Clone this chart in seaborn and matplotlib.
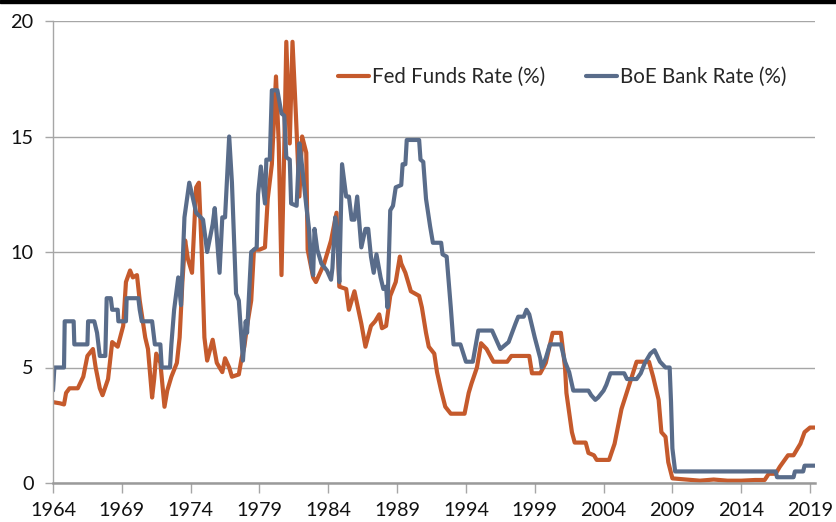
import matplotlib
matplotlib.use("Agg")
import matplotlib.pyplot as plt
from matplotlib.patches import Rectangle
import seaborn as sns
import pandas as pd

# ---- data ----
fed_years = [1964.0, 1964.5, 1964.8, 1964.95, 1965.2, 1965.8, 1966.2, 1966.5, 1966.9, 1967.1,
             1967.4, 1967.6, 1968.0, 1968.3, 1968.7, 1969.1, 1969.3, 1969.6, 1969.8, 1970.1,
             1970.3, 1970.7, 1970.9, 1971.2, 1971.35, 1971.5, 1971.8, 1972.1, 1972.3, 1972.6,
             1973.0, 1973.2, 1973.4, 1973.6, 1973.8, 1974.1, 1974.4, 1974.6, 1974.8, 1975.0,
             1975.2, 1975.6, 1975.9, 1976.3, 1976.5, 1976.8, 1977.0, 1977.5, 1977.7, 1977.9,
             1978.1, 1978.4, 1978.6, 1979.0, 1979.4, 1979.6, 1979.9, 1980.2, 1980.4, 1980.6,
             1980.8, 1980.95, 1981.2, 1981.4, 1981.65, 1981.9, 1982.1, 1982.4, 1982.5, 1982.9,
             1983.1, 1983.7, 1984.2, 1984.6, 1984.8, 1985.3, 1985.5, 1985.9, 1986.4, 1986.7,
             1987.1, 1987.4, 1987.7, 1987.9, 1988.2, 1988.5, 1988.9, 1989.2, 1989.3, 1989.6,
             1990.0, 1990.6, 1990.8, 1991.1, 1991.3, 1991.7, 1991.9, 1992.2, 1992.5, 1992.9,
             1993.9, 1994.2, 1994.4, 1994.8, 1995.1, 1995.5, 1996.0, 1997.0, 1997.3, 1998.6,
             1998.8, 1999.4, 1999.8, 2000.3, 2000.9, 2001.2, 2001.3, 2001.7, 2001.9, 2002.7,
             2002.9, 2003.3, 2003.5, 2004.4, 2004.8, 2005.3, 2006.0, 2006.4, 2007.3, 2007.6,
             2008.0, 2008.2, 2008.5, 2008.7, 2009.0, 2010.0, 2011.0, 2012.0, 2013.0, 2014.0,
             2015.0, 2015.7, 2016.0, 2016.5, 2016.8, 2017.4, 2017.8, 2018.3, 2018.6, 2019.0,
             2019.35]
fed_rate = [3.5, 3.45, 3.4, 3.9, 4.1, 4.1, 4.6, 5.5, 5.8, 5.0,
            4.1, 3.8, 4.5, 6.1, 5.9, 6.8, 8.7, 9.2, 8.9, 9.0,
            7.9, 6.3, 5.8, 3.7, 4.5, 5.6, 5.2, 3.3, 4.0, 4.6,
            5.2, 6.3, 8.7, 10.5, 9.7, 9.1, 12.8, 13.0, 10.1, 6.3,
            5.3, 6.2, 5.2, 4.8, 5.4, 5.0, 4.6, 4.7, 5.4, 5.9,
            6.8, 7.9, 10.1, 10.1, 10.2, 12.3, 13.8, 17.6, 14.7, 9.0,
            14.4, 19.1, 14.7, 19.1, 15.9, 12.4, 15.0, 14.3, 10.1, 8.9,
            8.7, 9.5, 10.5, 11.7, 8.5, 8.4, 7.5, 8.3, 6.9, 5.9,
            6.8, 7.0, 7.3, 6.7, 6.8, 8.1, 8.7, 9.8, 9.5, 9.1,
            8.3, 8.1, 7.6, 6.5, 5.9, 5.6, 4.8, 4.0, 3.3, 3.0,
            3.0, 3.9, 4.3, 5.0, 6.05, 5.8, 5.25, 5.25, 5.5, 5.5,
            4.75, 4.75, 5.2, 6.5, 6.5, 5.0, 3.9, 2.2, 1.75, 1.75,
            1.3, 1.2, 1.0, 1.0, 1.7, 3.2, 4.5, 5.25, 5.25, 4.6,
            3.6, 2.2, 2.0, 0.9, 0.2, 0.15, 0.1, 0.15, 0.1, 0.1,
            0.13, 0.13, 0.4, 0.4, 0.7, 1.2, 1.2, 1.7, 2.2, 2.4,
            2.4]

boe_years = [1964.0, 1964.1, 1964.8, 1964.85, 1965.5, 1965.55, 1966.5, 1966.55, 1967.0, 1967.2,
             1967.4, 1967.8, 1967.9, 1968.2, 1968.3, 1968.7, 1968.75, 1969.3, 1969.35, 1970.2,
             1970.3, 1970.45, 1971.2, 1971.4, 1971.8, 1971.9, 1972.5, 1972.6, 1972.8, 1973.1,
             1973.3, 1973.55, 1973.9, 1974.1, 1974.4, 1974.9, 1975.2, 1975.6, 1975.75, 1976.1,
             1976.3, 1976.5, 1976.8, 1977.0, 1977.3, 1977.5, 1977.8, 1978.0, 1978.1, 1978.4,
             1978.8, 1978.9, 1979.1, 1979.4, 1979.5, 1979.75, 1979.9, 1980.3, 1980.6, 1980.8,
             1980.95, 1981.2, 1981.3, 1981.7, 1981.9, 1982.1, 1982.4, 1982.6, 1982.75, 1982.9,
             1983.0, 1983.2, 1983.5, 1983.9, 1984.2, 1984.3, 1984.5, 1984.65, 1984.8, 1985.0,
             1985.3, 1985.5, 1985.7, 1985.9, 1986.1, 1986.4, 1986.7, 1986.9, 1987.1, 1987.3,
             1987.5, 1987.8, 1988.0, 1988.2, 1988.3, 1988.5, 1988.7, 1988.9, 1989.3, 1989.4,
             1989.6, 1989.7, 1990.6, 1990.7, 1990.9, 1991.1, 1991.4, 1991.6, 1992.2, 1992.3,
             1992.6, 1992.9, 1993.1, 1993.6, 1994.0, 1994.5, 1994.9, 1995.9, 1996.5, 1997.1,
             1997.6, 1997.8, 1998.2, 1998.4, 1998.6, 1999.0, 1999.4, 1999.5, 1999.8, 2000.1,
             2000.9, 2001.2, 2001.5, 2001.8, 2002.9, 2003.1, 2003.4, 2003.6, 2004.0, 2004.2,
             2004.5, 2005.5, 2005.7, 2006.4, 2006.7, 2007.0, 2007.4, 2007.7, 2008.1, 2008.5,
             2008.8, 2008.9, 2009.0, 2009.2, 2016.5, 2016.6, 2017.8, 2017.9, 2018.5, 2018.6,
             2019.35]
boe_rate = [4.0, 5.0, 5.0, 7.0, 7.0, 6.0, 6.0, 7.0, 7.0, 6.5,
            5.5, 5.5, 8.0, 8.0, 7.5, 7.5, 7.0, 7.0, 8.0, 8.0,
            7.5, 7.0, 7.0, 6.0, 6.0, 5.0, 5.0, 6.0, 7.5, 8.9,
            7.7, 11.5, 13.0, 12.5, 11.7, 11.4, 10.0, 11.2, 11.9, 9.1,
            11.5, 11.5, 15.0, 13.0, 8.2, 7.9, 5.3, 7.0, 6.5, 10.0,
            10.2, 12.5, 13.7, 12.1, 14.0, 14.0, 17.0, 17.0, 16.0, 15.9,
            14.1, 14.0, 12.1, 12.0, 14.7, 13.7, 12.0, 11.0, 9.5, 9.0,
            11.0, 10.1, 9.5, 9.2, 8.8, 9.3, 11.5, 10.8, 8.7, 13.8,
            12.4, 12.4, 11.4, 11.4, 12.4, 10.2, 11.0, 11.0, 9.8, 9.1,
            9.9, 8.9, 8.4, 8.5, 7.6, 11.8, 12.0, 12.8, 12.9, 13.8,
            13.8, 14.85, 14.85, 14.0, 13.9, 12.3, 11.1, 10.4, 10.4, 9.9,
            9.8, 7.6, 6.0, 6.0, 5.25, 5.25, 6.6, 6.6, 5.8, 6.1,
            6.9, 7.2, 7.2, 7.5, 7.3, 6.3, 5.4, 5.0, 5.4, 6.0,
            6.0, 5.25, 4.8, 4.0, 4.0, 3.8, 3.6, 3.7, 4.0, 4.25,
            4.75, 4.75, 4.5, 4.5, 4.75, 5.2, 5.6, 5.75, 5.25, 5.0,
            5.0, 3.5, 1.5, 0.5, 0.5, 0.25, 0.25, 0.5, 0.5, 0.75,
            0.75]

series_names = ["Fed Funds Rate (%)", "BoE Bank Rate (%)"]
x_ticks = [1964, 1969, 1974, 1979, 1984, 1989, 1994, 1999, 2004, 2009, 2014, 2019]
y_ticks = [0, 5, 10, 15, 20]

assert len(fed_years) == len(fed_rate), (len(fed_years), len(fed_rate))
assert len(boe_years) == len(boe_rate), (len(boe_years), len(boe_rate))

df = pd.concat([
    pd.DataFrame({"year": fed_years, "rate": fed_rate, "series": series_names[0]}),
    pd.DataFrame({"year": boe_years, "rate": boe_rate, "series": series_names[1]}),
], ignore_index=True)

# ---- style ----
sns.set_theme(style="white")
plt.rcParams["font.family"] = ["Lato", "DejaVu Sans"]

colors = {series_names[0]: "#C55A2C", series_names[1]: "#596C8A"}
grid_c = "#A6A6A6"

fig = plt.figure(figsize=(8.36, 5.22), dpi=100)
ax = fig.add_axes([53 / 836, 1 - 483 / 522, (815 - 53) / 836, (483 - 21) / 522])

sns.lineplot(data=df, x="year", y="rate", hue="series", palette=colors,
             estimator=None, sort=False, linewidth=3.0, ax=ax, legend=True)
for ln in ax.lines:
    ln.set_solid_joinstyle("round")
    ln.set_solid_capstyle("round")

ax.set_xlim(1964, 2019.36)
ax.set_ylim(0, 20)
ax.set_xticks(x_ticks)
ax.set_xticklabels([str(t) for t in x_ticks])
ax.set_yticks(y_ticks)
ax.set_yticklabels([str(t) for t in y_ticks])
ax.set_xlabel("")
ax.set_ylabel("")

ax.yaxis.grid(True, color=grid_c, linewidth=1.0)
ax.set_axisbelow(True)
for s in ["top", "right"]:
    ax.spines[s].set_visible(False)
ax.spines["left"].set_color(grid_c)
ax.spines["left"].set_linewidth(1.0)
ax.spines["bottom"].set_color("#9A9A9A")
ax.spines["bottom"].set_linewidth(1.8)

ax.tick_params(axis="x", bottom=True, length=7, width=1.0, color=grid_c, pad=7,
               labelsize=14.3, labelcolor="#111111")
ax.tick_params(axis="y", left=True, length=6, width=1.0, color=grid_c, pad=8,
               labelsize=14.3, labelcolor="#111111")

leg = ax.legend(loc="center left", bbox_to_anchor=((338 - 53) / 762, (483 - 77) / 462),
                ncol=2, frameon=False, fontsize=14.8, handlelength=1.5,
                handletextpad=0.15, columnspacing=2.0, borderpad=0, borderaxespad=0)
for h in leg.get_lines():
    h.set_linewidth(3.0)

fig.add_artist(Rectangle((0, 1 - 3 / 522), 1, 3 / 522, transform=fig.transFigure,
                         color="black", zorder=10))

fig.savefig("out.png", dpi=100)
